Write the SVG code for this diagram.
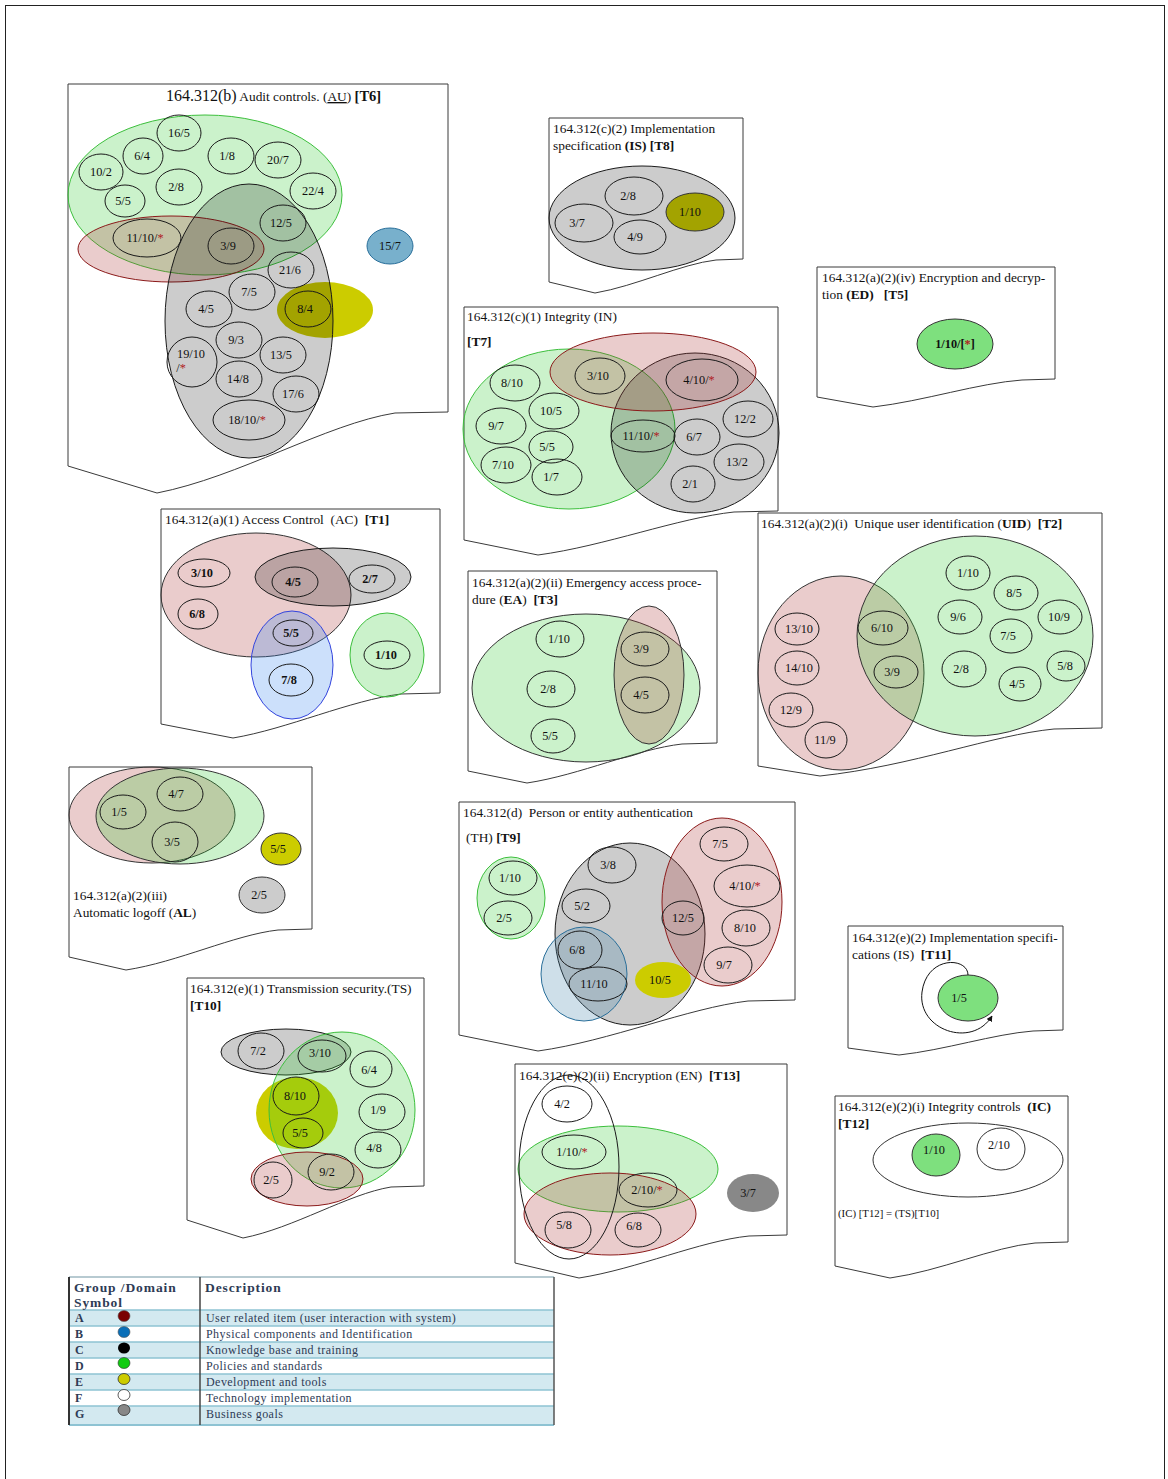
<svg xmlns="http://www.w3.org/2000/svg" width="1168" height="1479" viewBox="0 0 1168 1479">
<style>
text { font-family: "Liberation Serif", "Times New Roman", serif; fill: #111; }
.t { font-size: 13.4px; }
.n { font-size: 12.3px; text-anchor: middle; }
.nb { font-size: 12.3px; text-anchor: middle; font-weight: bold; }
.b { font-weight: bold; }
.ast { fill: #b0201f; }
.doc { fill: none; stroke: #3a3a3a; stroke-width: 1; }
.it { fill: none; stroke: #1a1a1a; stroke-width: 1; }
.g { fill: #2ecc2e; fill-opacity: .25; stroke: #3cbf3c; stroke-width: 1; }
.gk { fill: #2ecc2e; fill-opacity: .25; stroke: #333; stroke-width: 1; }
.r { fill: #aa3333; fill-opacity: .25; stroke: #8b1a1a; stroke-width: 1; }
.rk { fill: #aa3333; fill-opacity: .25; stroke: #333; stroke-width: 1; }
.k { fill: #000; fill-opacity: .2; stroke: #1a1a1a; stroke-width: 1; }
.bl { fill: #3a7fa8; fill-opacity: .25; stroke: #2a6f9a; stroke-width: 1; }
.y { fill: #cccc00; }
.lg { fill: #7ee07e; stroke: #333; stroke-width: 1; }
.lt { font-size: 12px; fill: #2e3b55; letter-spacing: .45px; }
.lh { font-size: 13.5px; font-weight: bold; fill: #2e3b55; letter-spacing: .9px; }
.row { fill: #d3e9f0; }
.sep { stroke: #8ec3d3; stroke-width: 1.5; }
</style>
<defs>
<marker id="arr" viewBox="0 0 10 10" refX="9" refY="5" markerWidth="6" markerHeight="6" orient="auto">
<path d="M0,0 L10,5 L0,10 Z" fill="#111"/>
</marker>
</defs>

<rect x="0" y="0" width="1168" height="1479" fill="#fff"/>
<rect x="5.5" y="5.5" width="1159" height="1490" fill="none" stroke="#222" stroke-width="1"/>

<!-- Audit controls -->
<g id="t6">
<path class="doc" d="M68,84 H448 V412 L395,413 C326,424 239,477 157,493 L68,466 Z"/>
<text class="t" x="166" y="101"><tspan font-size="16">164.312(b)</tspan> Audit controls. (<tspan text-decoration="underline">AU</tspan>) <tspan class="b" font-size="14.5">[T6]</tspan></text>
<ellipse class="y" cx="325" cy="310" rx="48" ry="28"/>
<ellipse class="g" cx="205" cy="195" rx="137" ry="80"/>
<ellipse class="r" cx="171" cy="249" rx="93" ry="33"/>
<ellipse class="k" cx="249" cy="321" rx="84" ry="137"/>
<ellipse cx="390" cy="246" rx="23" ry="18" fill="#78b0cc" stroke="#2a6f9a"/>
<text class="n" x="390" y="250">15/7</text>
<ellipse class="it" cx="179" cy="133" rx="22" ry="18"/><text class="n" x="179" y="137">16/5</text>
<ellipse class="it" cx="143" cy="156" rx="20" ry="18"/><text class="n" x="142" y="160">6/4</text>
<ellipse class="it" cx="101" cy="172" rx="22" ry="18"/><text class="n" x="101" y="176">10/2</text>
<ellipse class="it" cx="125" cy="201" rx="20" ry="16"/><text class="n" x="123" y="205">5/5</text>
<ellipse class="it" cx="179" cy="187" rx="23" ry="18"/><text class="n" x="176" y="191">2/8</text>
<ellipse class="it" cx="231" cy="156" rx="23" ry="18"/><text class="n" x="227" y="160">1/8</text>
<ellipse class="it" cx="278" cy="160" rx="23" ry="18"/><text class="n" x="278" y="164">20/7</text>
<ellipse class="it" cx="313" cy="191" rx="23" ry="18"/><text class="n" x="313" y="195">22/4</text>
<ellipse class="it" cx="283" cy="223" rx="23" ry="18"/><text class="n" x="281" y="227">12/5</text>
<ellipse class="it" cx="147" cy="238" rx="34" ry="19"/><text class="n" x="145" y="242">11/10/<tspan class="ast">*</tspan></text>
<ellipse class="it" cx="231" cy="246" rx="23" ry="18"/><text class="n" x="228" y="250">3/9</text>
<ellipse class="it" cx="291" cy="270" rx="23" ry="18"/><text class="n" x="290" y="274">21/6</text>
<ellipse class="it" cx="252" cy="292" rx="23" ry="18"/><text class="n" x="249" y="296">7/5</text>
<ellipse class="it" cx="209" cy="309" rx="23" ry="18"/><text class="n" x="206" y="313">4/5</text>
<ellipse class="it" cx="308" cy="309" rx="23" ry="18"/><text class="n" x="305" y="313">8/4</text>
<ellipse class="it" cx="239" cy="340" rx="23" ry="18"/><text class="n" x="236" y="344">9/3</text>
<ellipse class="it" cx="283" cy="355" rx="23" ry="18"/><text class="n" x="281" y="359">13/5</text>
<ellipse class="it" cx="192" cy="362" rx="25" ry="25"/><text class="n" x="191" y="358">19/10</text><text class="n" x="181" y="372">/<tspan class="ast">*</tspan></text>
<ellipse class="it" cx="239" cy="379" rx="23" ry="18"/><text class="n" x="238" y="383">14/8</text>
<ellipse class="it" cx="296" cy="394" rx="23" ry="18"/><text class="n" x="293" y="398" font-size="10.5">17/6</text>
<ellipse class="it" cx="249" cy="420" rx="36" ry="20"/><text class="n" x="247" y="424">18/10/<tspan class="ast">*</tspan></text>
</g>

<!-- Implementation specification (c)(2) -->
<g id="t8">
<path class="doc" d="M549,118 H743 V259 L716,260 C681,264 636,286 595,293 L549,282 Z"/>
<text class="t" x="553" y="133">164.312(c)(2) Implementation</text>
<text class="t" x="553" y="150">specification <tspan class="b">(IS) [T8]</tspan></text>
<ellipse class="k" cx="642" cy="218" rx="93" ry="52"/>
<ellipse class="it" cx="634" cy="196" rx="29" ry="19"/><text class="n" x="628" y="200">2/8</text>
<ellipse cx="695" cy="212" rx="29" ry="19" fill="#a3a300" stroke="#333"/><text class="n" x="690" y="216">1/10</text>
<ellipse class="it" cx="584" cy="223" rx="29" ry="19"/><text class="n" x="577" y="227">3/7</text>
<ellipse class="it" cx="640" cy="237" rx="26" ry="17"/><text class="n" x="635" y="241">4/9</text>
</g>

<!-- Encryption and decryption -->
<g id="t5">
<path class="doc" d="M817,267 H1055 V379 L1022,380 C979,383 924,401 873,407 L817,397 Z"/>
<text class="t" x="822" y="282">164.312(a)(2)(iv) Encryption and decryp-</text>
<text class="t" x="822" y="299" xml:space="preserve">tion <tspan class="b">(ED)</tspan>   <tspan class="b">[T5]</tspan></text>
<ellipse class="lg" cx="955" cy="344" rx="38" ry="25"/>
<text class="nb" x="955" y="348">1/10/[<tspan class="ast">*</tspan>]</text>
</g>

<!-- Integrity (c)(1) -->
<g id="t7">
<path class="doc" d="M464,307 H778 V511 L734,512 C678,518 605,546 538,555 L464,540 Z"/>
<text class="t" x="467" y="321">164.312(c)(1) Integrity (IN)</text>
<text class="t b" x="467" y="346">[T7]</text>
<ellipse class="g" cx="569" cy="429" rx="106" ry="80"/>
<ellipse class="k" cx="695" cy="433" rx="84" ry="80" fill-opacity=".15"/>
<ellipse class="r" cx="653" cy="372" rx="103" ry="39"/>
<ellipse class="it" cx="515" cy="383" rx="25" ry="18"/><text class="n" x="512" y="387">8/10</text>
<ellipse class="it" cx="600" cy="376" rx="25" ry="18"/><text class="n" x="598" y="380">3/10</text>
<ellipse class="it" cx="702" cy="380" rx="36" ry="21"/><text class="n" x="699" y="384">4/10/<tspan class="ast">*</tspan></text>
<ellipse class="it" cx="554" cy="411" rx="25" ry="18"/><text class="n" x="551" y="415">10/5</text>
<ellipse class="it" cx="501" cy="426" rx="25" ry="18"/><text class="n" x="496" y="430">9/7</text>
<ellipse class="it" cx="748" cy="419" rx="25" ry="18"/><text class="n" x="745" y="423">12/2</text>
<ellipse class="it" cx="643" cy="436" rx="32" ry="16"/><text class="n" x="641" y="440">11/10/<tspan class="ast">*</tspan></text>
<ellipse class="it" cx="697" cy="437" rx="23" ry="18"/><text class="n" x="694" y="441">6/7</text>
<ellipse class="it" cx="551" cy="447" rx="22" ry="16"/><text class="n" x="547" y="451">5/5</text>
<ellipse class="it" cx="739" cy="462" rx="25" ry="18"/><text class="n" x="737" y="466">13/2</text>
<ellipse class="it" cx="506" cy="465" rx="25" ry="18"/><text class="n" x="503" y="469">7/10</text>
<ellipse class="it" cx="557" cy="477" rx="25" ry="18"/><text class="n" x="551" y="481">1/7</text>
<ellipse class="it" cx="693" cy="484" rx="22" ry="18"/><text class="n" x="690" y="488">2/1</text>
</g>

<!-- Access control -->
<g id="t1">
<path class="doc" d="M161,509 H440 V693 L401,694 C351,700 287,729 233,738 L161,724 Z"/>
<text class="t" x="165" y="524" xml:space="preserve">164.312(a)(1) Access Control  (AC)  <tspan class="b">[T1]</tspan></text>
<ellipse class="rk" cx="256" cy="595" rx="95" ry="62"/>
<ellipse class="k" cx="333" cy="577" rx="78" ry="29"/>
<ellipse cx="292" cy="665" rx="41" ry="54" fill="#3282f0" fill-opacity=".25" stroke="#3344dd"/>
<ellipse class="g" cx="387" cy="655" rx="37" ry="42"/>
<ellipse class="it" cx="204" cy="573" rx="26" ry="14"/><text class="nb" x="202" y="577">3/10</text>
<ellipse class="it" cx="295" cy="582" rx="23" ry="15"/><text class="nb" x="293" y="586">4/5</text>
<ellipse class="it" cx="372" cy="579" rx="23" ry="14"/><text class="nb" x="370" y="583">2/7</text>
<ellipse class="it" cx="198" cy="614" rx="20" ry="15"/><text class="nb" x="197" y="618">6/8</text>
<ellipse class="it" cx="293" cy="633" rx="20" ry="13"/><text class="nb" x="291" y="637">5/5</text>
<ellipse class="it" cx="387" cy="655" rx="23" ry="14"/><text class="nb" x="386" y="659">1/10</text>
<ellipse class="it" cx="291" cy="680" rx="22" ry="16"/><text class="nb" x="289" y="684">7/8</text>
</g>

<!-- Emergency access procedure -->
<g id="t3">
<path class="doc" d="M468,571 H717 V743 L682,744 C637,749 580,775 527,783 L468,771 Z"/>
<text class="t" x="472" y="587">164.312(a)(2)(ii) Emergency access proce-</text>
<text class="t" x="472" y="604" xml:space="preserve">dure (<tspan class="b">EA</tspan>)  <tspan class="b">[T3]</tspan></text>
<ellipse class="gk" cx="586" cy="688" rx="114" ry="74"/>
<ellipse class="rk" cx="649" cy="675" rx="35" ry="69"/>
<ellipse class="it" cx="560" cy="639" rx="24" ry="18"/><text class="n" x="559" y="643">1/10</text>
<ellipse class="it" cx="551" cy="689" rx="24" ry="18"/><text class="n" x="548" y="693">2/8</text>
<ellipse class="it" cx="553" cy="736" rx="22" ry="17"/><text class="n" x="550" y="740">5/5</text>
<ellipse class="it" cx="645" cy="649" rx="24" ry="17"/><text class="n" x="641" y="653">3/9</text>
<ellipse class="it" cx="645" cy="695" rx="24" ry="18"/><text class="n" x="641" y="699">4/5</text>
</g>

<!-- Unique user identification -->
<g id="t2">
<path class="doc" d="M758,513 H1102 V728 L1054,729 C992,735 913,766 820,776 L758,766 Z"/>
<text class="t" x="761" y="528" xml:space="preserve">164.312(a)(2)(i)  Unique user identification (<tspan class="b">UID</tspan>)  <tspan class="b">[T2]</tspan></text>
<ellipse class="rk" cx="841" cy="673" rx="83" ry="97"/>
<ellipse class="gk" cx="975" cy="636" rx="118" ry="100"/>
<ellipse class="it" cx="968" cy="573" rx="22" ry="17"/><text class="n" x="968" y="577">1/10</text>
<ellipse class="it" cx="1016" cy="593" rx="22" ry="17"/><text class="n" x="1014" y="597">8/5</text>
<ellipse class="it" cx="960" cy="617" rx="22" ry="17"/><text class="n" x="958" y="621">9/6</text>
<ellipse class="it" cx="1060" cy="617" rx="22" ry="17"/><text class="n" x="1059" y="621">10/9</text>
<ellipse class="it" cx="797" cy="629" rx="22" ry="16"/><text class="n" x="799" y="633">13/10</text>
<ellipse class="it" cx="883" cy="628" rx="25" ry="17"/><text class="n" x="882" y="632">6/10</text>
<ellipse class="it" cx="1011" cy="636" rx="21" ry="17"/><text class="n" x="1008" y="640">7/5</text>
<ellipse class="it" cx="797" cy="668" rx="22" ry="17"/><text class="n" x="799" y="672">14/10</text>
<ellipse class="it" cx="896" cy="672" rx="22" ry="16"/><text class="n" x="892" y="676">3/9</text>
<ellipse class="it" cx="964" cy="669" rx="22" ry="18"/><text class="n" x="961" y="673">2/8</text>
<ellipse class="it" cx="1066" cy="666" rx="19" ry="15"/><text class="n" x="1065" y="670">5/8</text>
<ellipse class="it" cx="1020" cy="684" rx="21" ry="17"/><text class="n" x="1017" y="688">4/5</text>
<ellipse class="it" cx="791" cy="710" rx="22" ry="17"/><text class="n" x="791" y="714">12/9</text>
<ellipse class="it" cx="826" cy="740" rx="21" ry="18"/><text class="n" x="825" y="744">11/9</text>
</g>

<!-- Automatic logoff -->
<g id="al">
<path class="doc" d="M69,767 H312 V929 L278,930 C234,935 178,962 126,970 L69,957 Z"/>
<ellipse class="rk" cx="152" cy="815" rx="83" ry="48"/>
<ellipse class="gk" cx="180" cy="816" rx="84" ry="48"/>
<ellipse class="it" cx="180" cy="794" rx="23" ry="17"/><text class="n" x="176" y="798">4/7</text>
<ellipse class="it" cx="123" cy="812" rx="23" ry="17"/><text class="n" x="119" y="816">1/5</text>
<ellipse class="it" cx="175" cy="842" rx="23" ry="20"/><text class="n" x="172" y="846">3/5</text>
<ellipse cx="281" cy="849" rx="20" ry="16" fill="#cccc00" stroke="#333"/><text class="n" x="278" y="853">5/5</text>
<ellipse cx="262" cy="895" rx="23" ry="18" fill="#ccc" stroke="#333"/><text class="n" x="259" y="899">2/5</text>
<text class="t" x="73" y="900">164.312(a)(2)(iii)</text>
<text class="t" x="73" y="917">Automatic logoff (<tspan class="b">AL</tspan>)</text>
</g>

<!-- Person or entity authentication -->
<g id="t9">
<path class="doc" d="M459,802 H795 V1000 L748,1001 C688,1008 610,1041 538,1051 L459,1035 Z"/>
<text class="t" x="463" y="817" xml:space="preserve">164.312(d)  Person or entity authentication</text>
<text class="t" x="466" y="842">(TH) <tspan class="b">[T9]</tspan></text>
<ellipse class="g" cx="511" cy="898" rx="34" ry="41"/>
<ellipse class="it" cx="513" cy="878" rx="24" ry="17"/><text class="n" x="510" y="882">1/10</text>
<ellipse class="it" cx="508" cy="918" rx="24" ry="17"/><text class="n" x="504" y="922">2/5</text>
<ellipse class="k" cx="630" cy="934" rx="75" ry="91"/>
<ellipse class="bl" cx="584" cy="974" rx="43" ry="47"/>
<ellipse class="r" cx="722" cy="902" rx="60" ry="84"/>
<ellipse class="y" cx="663" cy="980" rx="28" ry="18"/>
<text class="n" x="660" y="984">10/5</text>
<ellipse class="it" cx="612" cy="865" rx="24" ry="18"/><text class="n" x="608" y="869">3/8</text>
<ellipse class="it" cx="586" cy="906" rx="24" ry="17"/><text class="n" x="582" y="910">5/2</text>
<ellipse class="it" cx="683" cy="918" rx="21" ry="17"/><text class="n" x="683" y="922">12/5</text>
<ellipse class="it" cx="724" cy="844" rx="24" ry="17"/><text class="n" x="720" y="848">7/5</text>
<ellipse class="it" cx="747" cy="886" rx="33" ry="21"/><text class="n" x="745" y="890">4/10/<tspan class="ast">*</tspan></text>
<ellipse class="it" cx="746" cy="928" rx="24" ry="18"/><text class="n" x="745" y="932">8/10</text>
<ellipse class="it" cx="728" cy="965" rx="24" ry="18"/><text class="n" x="724" y="969">9/7</text>
<ellipse class="it" cx="580" cy="950" rx="22" ry="19"/><text class="n" x="577" y="954">6/8</text>
<ellipse class="it" cx="598" cy="984" rx="29" ry="17"/><text class="n" x="594" y="988">11/10</text>
</g>

<!-- Implementation specifications (e)(2) -->
<g id="t11">
<path class="doc" d="M848,926 H1063 V1030 L1033,1031 C994,1034 945,1050 899,1055 L848,1048 Z"/>
<text class="t" x="852" y="942">164.312(e)(2) Implementation specifi-</text>
<text class="t" x="852" y="959" xml:space="preserve">cations (IS)  <tspan class="b">[T11]</tspan></text>
<ellipse class="lg" cx="968" cy="998" rx="30" ry="23"/>
<text class="n" x="959" y="1002">1/5</text>
</g>

<!-- Integrity controls -->
<g id="t12">
<path class="doc" d="M835,1096 H1068 V1242 L1035,1243 C993,1247 940,1271 890,1278 L835,1266 Z"/>
<text class="t" x="838" y="1111" xml:space="preserve">164.312(e)(2)(i) Integrity controls  <tspan class="b">(IC)</tspan></text>
<text class="t b" x="838" y="1128">[T12]</text>
<ellipse cx="968" cy="1160" rx="95" ry="37" fill="#fff" stroke="#333"/>
<ellipse class="lg" cx="936" cy="1155" rx="24" ry="21"/><text class="n" x="934" y="1154">1/10</text>
<ellipse cx="1001" cy="1149" rx="24" ry="21" fill="#fff" stroke="#333"/><text class="n" x="999" y="1149">2/10</text>
<text x="838" y="1217" font-size="10.8">(IC) [T12] = (TS)[T10]</text>
</g>

<!-- Transmission security -->
<g id="t10">
<path class="doc" d="M187,978 H424 V1186 L391,1187 C348,1194 294,1228 243,1238 L187,1220 Z"/>
<text class="t" x="190" y="993">164.312(e)(1) Transmission security.(TS)</text>
<text class="t b" x="190" y="1010">[T10]</text>
<ellipse class="y" cx="297" cy="1113" rx="41" ry="36"/>
<ellipse class="k" cx="286" cy="1052" rx="65" ry="23"/>
<ellipse class="g" cx="342" cy="1110" rx="73" ry="78"/>
<ellipse class="r" cx="307" cy="1179" rx="56" ry="27"/>
<ellipse class="it" cx="261" cy="1051" rx="23" ry="18"/><text class="n" x="258" y="1055">7/2</text>
<ellipse class="it" cx="322" cy="1056" rx="24" ry="16"/><text class="n" x="320" y="1057">3/10</text>
<ellipse class="it" cx="371" cy="1069" rx="21" ry="18"/><text class="n" x="369" y="1074">6/4</text>
<ellipse class="it" cx="296" cy="1096" rx="23" ry="19"/><text class="n" x="295" y="1100">8/10</text>
<ellipse class="it" cx="382" cy="1112" rx="23" ry="18"/><text class="n" x="378" y="1114">1/9</text>
<ellipse class="it" cx="303" cy="1133" rx="20" ry="15"/><text class="n" x="300" y="1137">5/5</text>
<ellipse class="it" cx="378" cy="1150" rx="23" ry="18"/><text class="n" x="374" y="1152">4/8</text>
<ellipse class="it" cx="273" cy="1180" rx="19" ry="18"/><text class="n" x="271" y="1184">2/5</text>
<ellipse class="it" cx="331" cy="1172" rx="23" ry="18"/><text class="n" x="327" y="1176">9/2</text>
</g>

<!-- Encryption (e)(2)(ii) -->
<g id="t13">
<path class="doc" d="M515,1064 H787 V1235 L749,1236 C700,1241 637,1269 579,1278 L515,1263 Z"/>
<text class="t" x="519" y="1080" xml:space="preserve">164.312(e)(2)(ii) Encryption (EN)  <tspan class="b">[T13]</tspan></text>
<ellipse class="g" cx="618" cy="1169" rx="100" ry="43"/>
<ellipse class="r" cx="610" cy="1214" rx="86" ry="41"/>
<ellipse class="it" cx="569" cy="1167" rx="50" ry="92"/>
<ellipse cx="753" cy="1193" rx="26" ry="19" fill="#888"/><text class="n" x="748" y="1197">3/7</text>
<ellipse class="it" cx="567" cy="1104" rx="25" ry="18"/><text class="n" x="562" y="1108">4/2</text>
<ellipse class="it" cx="574" cy="1152" rx="32" ry="17"/><text class="n" x="572" y="1156">1/10/<tspan class="ast">*</tspan></text>
<ellipse class="it" cx="648" cy="1190" rx="29" ry="17"/><text class="n" x="647" y="1194">2/10/<tspan class="ast">*</tspan></text>
<ellipse class="it" cx="568" cy="1230" rx="23" ry="18"/><text class="n" x="564" y="1229">5/8</text>
<ellipse class="it" cx="638" cy="1230" rx="23" ry="17"/><text class="n" x="634" y="1230">6/8</text>
</g>

<!-- Connectors -->
<g id="connectors">
<path d="M968,975 C968,957 927,955 922,992 C917,1030 972,1049 992,1016" fill="none" stroke="#111" stroke-width="1" marker-end="url(#arr)"/>
</g>

<!-- Legend -->
<g id="legend">
<rect x="69" y="1277" width="485" height="33" fill="#fff"/>
<rect class="row" x="69" y="1310" width="485" height="16"/>
<rect class="row" x="69" y="1342" width="485" height="16"/>
<rect class="row" x="69" y="1374" width="485" height="16"/>
<rect class="row" x="69" y="1406" width="485" height="19"/>
<line x1="69" y1="1277" x2="554" y2="1277" stroke="#9fb8c2" stroke-width="1.5"/>
<line class="sep" x1="69" y1="1310" x2="554" y2="1310"/>
<line class="sep" x1="69" y1="1326" x2="554" y2="1326"/>
<line class="sep" x1="69" y1="1342" x2="554" y2="1342"/>
<line class="sep" x1="69" y1="1358" x2="554" y2="1358"/>
<line class="sep" x1="69" y1="1374" x2="554" y2="1374"/>
<line class="sep" x1="69" y1="1390" x2="554" y2="1390"/>
<line class="sep" x1="69" y1="1406" x2="554" y2="1406"/>
<line x1="69" y1="1425" x2="554" y2="1425" stroke="#8ec3d3" stroke-width="2"/>
<line x1="69" y1="1277" x2="69" y2="1425" stroke="#333" stroke-width="2"/>
<line x1="200" y1="1277" x2="200" y2="1425" stroke="#444" stroke-width="1.5"/>
<line x1="554" y1="1277" x2="554" y2="1425" stroke="#555" stroke-width="1.5"/>
<text class="lh" x="74" y="1292">Group /Domain</text>
<text class="lh" x="74" y="1307">Symbol</text>
<text class="lh" x="205" y="1292">Description</text>
<text class="lt b" x="75" y="1322">A</text>
<text class="lt b" x="75" y="1338">B</text>
<text class="lt b" x="75" y="1354">C</text>
<text class="lt b" x="75" y="1370">D</text>
<text class="lt b" x="75" y="1386">E</text>
<text class="lt b" x="75" y="1402">F</text>
<text class="lt b" x="75" y="1418">G</text>
<ellipse cx="124" cy="1316" rx="6" ry="5.5" fill="#7a0000" stroke="#555" stroke-width=".6"/>
<ellipse cx="124" cy="1332" rx="6" ry="5.5" fill="#0a6fb8" stroke="#555" stroke-width=".6"/>
<ellipse cx="124" cy="1348" rx="6" ry="5.5" fill="#000"/>
<ellipse cx="124" cy="1363" rx="6" ry="5.5" fill="#11cc11" stroke="#333" stroke-width=".6"/>
<ellipse cx="124" cy="1379" rx="6" ry="5.5" fill="#cccc00" stroke="#333" stroke-width=".8"/>
<ellipse cx="124" cy="1395" rx="6" ry="5.5" fill="#fff" stroke="#333" stroke-width=".8"/>
<ellipse cx="124" cy="1410" rx="6" ry="5.5" fill="#888" stroke="#333" stroke-width=".8"/>
<text class="lt" x="206" y="1322">User related item (user interaction with system)</text>
<text class="lt" x="206" y="1338">Physical components and Identification</text>
<text class="lt" x="206" y="1354">Knowledge base and training</text>
<text class="lt" x="206" y="1370">Policies and standards</text>
<text class="lt" x="206" y="1386">Development and tools</text>
<text class="lt" x="206" y="1402">Technology implementation</text>
<text class="lt" x="206" y="1418">Business goals</text>
</g>
</svg>
